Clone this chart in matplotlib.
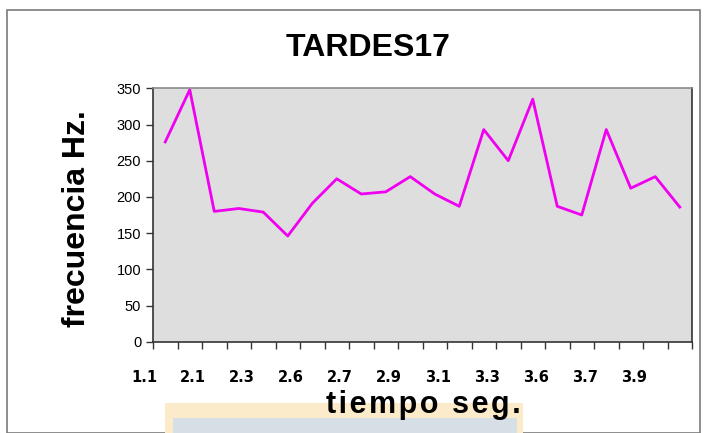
import matplotlib.pyplot as plt
from matplotlib.patches import Rectangle
from matplotlib.transforms import blended_transform_factory

# valores
frecuencia = [276, 348, 180, 184, 179, 146, 191, 225, 204, 207, 228,
              204, 187, 293, 250, 335, 187, 175, 293, 212, 228, 186]
etiquetas_tiempo = ["1.1", "2.1", "2.3", "2.6", "2.7", "2.9",
                    "3.1", "3.3", "3.6", "3.7", "3.9"]
y_ticks = [0, 50, 100, 150, 200, 250, 300, 350]

W, H = 708, 433
fig = plt.figure(figsize=(W / 100, H / 100), dpi=100)
fig.patch.set_facecolor("white")

# marco exterior y recuadro de abajo (del escaneo)
fig.patches.append(Rectangle((7 / W, 0), 693 / W, 1 - 10 / H, transform=fig.transFigure,
                             fill=False, edgecolor="#7a7a7a", linewidth=1.2))
fig.patches.append(Rectangle((165 / W, 0), 358 / W, 30 / H, transform=fig.transFigure,
                             facecolor="#fcebcb", edgecolor="none"))
fig.patches.append(Rectangle((173 / W, 0), 344 / W, 15 / H, transform=fig.transFigure,
                             facecolor="#d6dee6", edgecolor="none"))

ax = fig.add_axes([153 / W, 91.3 / H, 539 / W, 253.4 / H])
ax.set_facecolor("#dedede")

x = list(range(len(frecuencia)))
ax.plot(x, frecuencia, color="#f000f0", linewidth=2.0)

ax.set_xlim(-0.5, len(frecuencia) - 0.5)
ax.set_ylim(0, 350)
ax.set_yticks(y_ticks)
ax.set_yticklabels([str(v) for v in y_ticks], fontsize=10.5, family="Liberation Sans")
ax.set_xticks([i - 0.5 for i in range(len(frecuencia) + 1)])
ax.set_xticklabels([])
ax.tick_params(axis="both", direction="out", length=5, width=1, color="#333333")

for s in ["left", "bottom", "right"]:
    ax.spines[s].set_color("#333333")
    ax.spines[s].set_linewidth(1.2)
ax.spines["top"].set_color("#8a8a8a")
ax.spines["top"].set_linewidth(1.2)

# etiquetas de tiempo (desplazadas como en el original)
tr = blended_transform_factory(ax.transData, fig.transFigure)
for i, lab in enumerate(etiquetas_tiempo):
    ax.text(2 * i - 0.86, (H - 378) / H, lab, transform=tr, ha="center", va="center",
            fontsize=10.5, fontweight="bold", family="DejaVu Sans")

fig.text(368 / W, (H - 48) / H, "TARDES17", ha="center", va="center",
         fontsize=23, fontweight="bold", family="Liberation Sans")
fig.text(77 / W, (H - 219) / H, "frecuencia Hz.", ha="center", va="center", rotation=90,
         fontsize=23, fontweight="bold", family="Liberation Sans")
fig.text(423 / W, (H - 405) / H, "\u200a".join("tiempo seg."), ha="center", va="center",
         fontsize=22, fontweight="bold", family=["Liberation Sans", "DejaVu Sans"])

fig.savefig("out.png", dpi=100)
